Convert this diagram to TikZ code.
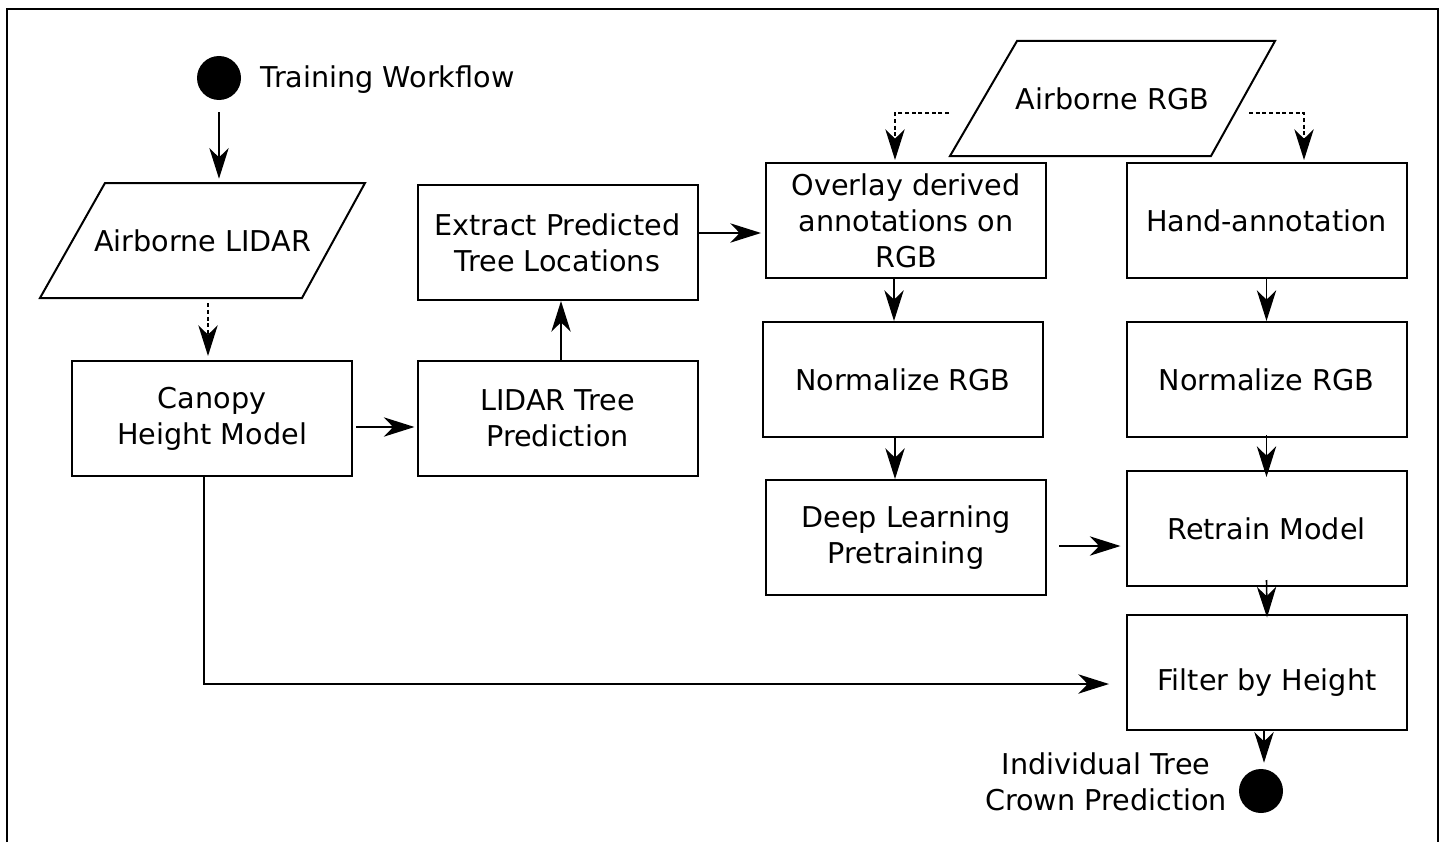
\documentclass[tikz,border=0pt]{standalone}
\usepackage{fontspec}
\setmainfont{DejaVu Sans}
\usetikzlibrary{arrows.meta,calc}
\begin{document}
\begin{tikzpicture}[x=0.75pt,y=-0.75pt,
  every node/.style={font=\fontsize{21.5pt}{27pt}\selectfont},
  stepbox/.style={draw, line width=1.5pt, minimum width=210pt, minimum height=86.25pt, inner sep=0pt, align=center},
  iobox/.style={minimum width=195pt, minimum height=86.25pt, inner sep=0pt, align=center},
  ioshape/.style={line width=1.5pt, line join=miter},
  flow/.style={line width=1.2pt, -{Stealth[length=23pt,width=14.5pt,inset=7pt]}},
  dataflow/.style={flow, dash pattern=on 3pt off 2pt},
  terminal/.style={circle, fill=black, minimum size=33pt, inner sep=0pt},
  frame/.style={line width=1.5pt}]
\useasboundingbox (0,0) rectangle (1444,842);

% open frame around the workflow
\draw[frame] (7,842) -- (7,9) -- (1438,9) -- (1438,842);

% start and end terminals
\node[terminal] (start) at (219,78) {};
\node[anchor=west] (starttext) at (256,80) {Training Workflow};
\node[terminal] (finish) at (1261,791) {};
\node[align=center] (finishtext) at (1106,782) {Individual Tree\\Crown Prediction};

% input data (parallelograms)
\node[iobox] (lidar) at (202.5,240.5) {Airborne LIDAR};
\draw[ioshape] ($(lidar.center)+(-97.5,-57.5)$) -- ($(lidar.center)+(162.5,-57.5)$)
  -- ($(lidar.center)+(99.5,57.5)$) -- ($(lidar.center)+(-162.5,57.5)$) -- cycle;
\node[iobox] (rgb) at (1112.5,98.5) {Airborne RGB};
\draw[ioshape] ($(rgb.center)+(-95.5,-57.5)$) -- ($(rgb.center)+(162.5,-57.5)$)
  -- ($(rgb.center)+(98.5,57.5)$) -- ($(rgb.center)+(-162.5,57.5)$) -- cycle;

% processing steps
\node[stepbox] (canopy) at (212,418.5) {Canopy\\Height Model};
\node[stepbox] (ltree) at (557.5,418.5) {LIDAR Tree\\Prediction};
\node[stepbox] (extract) at (557.5,242.5) {Extract Predicted\\Tree Locations};
\node[stepbox] (overlay) at (906,220.5) {Overlay derived\\annotations on\\RGB};
\node[stepbox] (normL) at (903,379.5) {Normalize RGB};
\node[stepbox] (deep) at (906,537.5) {Deep Learning\\Pretraining};
\node[stepbox] (hand) at (1266.5,220.5) {Hand-annotation};
\node[stepbox] (normR) at (1266.5,379.5) {Normalize RGB};
\node[stepbox] (retrain) at (1266.5,528.5) {Retrain Model};
\node[stepbox] (filter) at (1267,672) {\raisebox{-8pt}[\height][\depth]{Filter by Height}};

% connectors
\draw[flow] ($(start.south)+(0,12)$) -- ($(start.south |- lidar.north)+(0,-4)$);
\coordinate (a) at ($(lidar.south)+(5.5,5)$);
\draw[dataflow] (a) -- ($(a |- canopy.north)+(0,-4)$);
\coordinate (b) at ($(canopy.east)+(3,8.5)$);
\draw[flow] (b) -- ($(b -| ltree.west)+(-2,0)$);
\coordinate (c) at ($(ltree.north)+(3.5,0)$);
\draw[flow] (c) -- (c |- extract.south);
\coordinate (d) at ($(extract.east)+(0,-9.5)$);
\draw[flow] (d) -- ($(d -| overlay.west)+(-4,0)$);
\draw[dataflow] ($(rgb.center)+(-163.5,14.5)$) -| ($(overlay.north)+(-11,-2)$);
\draw[dataflow] ($(rgb.center)+(136.5,14.5)$) -| ($(hand.north)+(37.5,-2)$);
\coordinate (e) at ($(overlay.south)+(-12,0)$);
\draw[flow] (e) -- (e |- normL.north);
\coordinate (f) at ($(normL.south)+(-8,0)$);
\draw[flow] (f) -- (f |- deep.north);
\coordinate (g) at ($(deep.east)+(12,8.5)$);
\draw[flow] (g) -- ($(g -| retrain.west)+(-5,0)$);
\draw[flow] (hand.south) -- (normR.north);
\draw[flow] ($(normR.south)+(0,-3)$) -- ($(retrain.north)+(0,7)$);
\draw[flow] ($(retrain.south)+(0,-7)$) -- ($(filter.north)+(0,4)$);
\coordinate (h) at ($(canopy.south)+(-8,0)$);
\draw[flow] (h) |- ($(filter.west)+(-17,12)$);
\coordinate (k) at ($(filter.south)+(-3,0)$);
\draw[flow] (k) -- ($(k |- finish.north)+(0,-6)$);
\end{tikzpicture}
\end{document}
